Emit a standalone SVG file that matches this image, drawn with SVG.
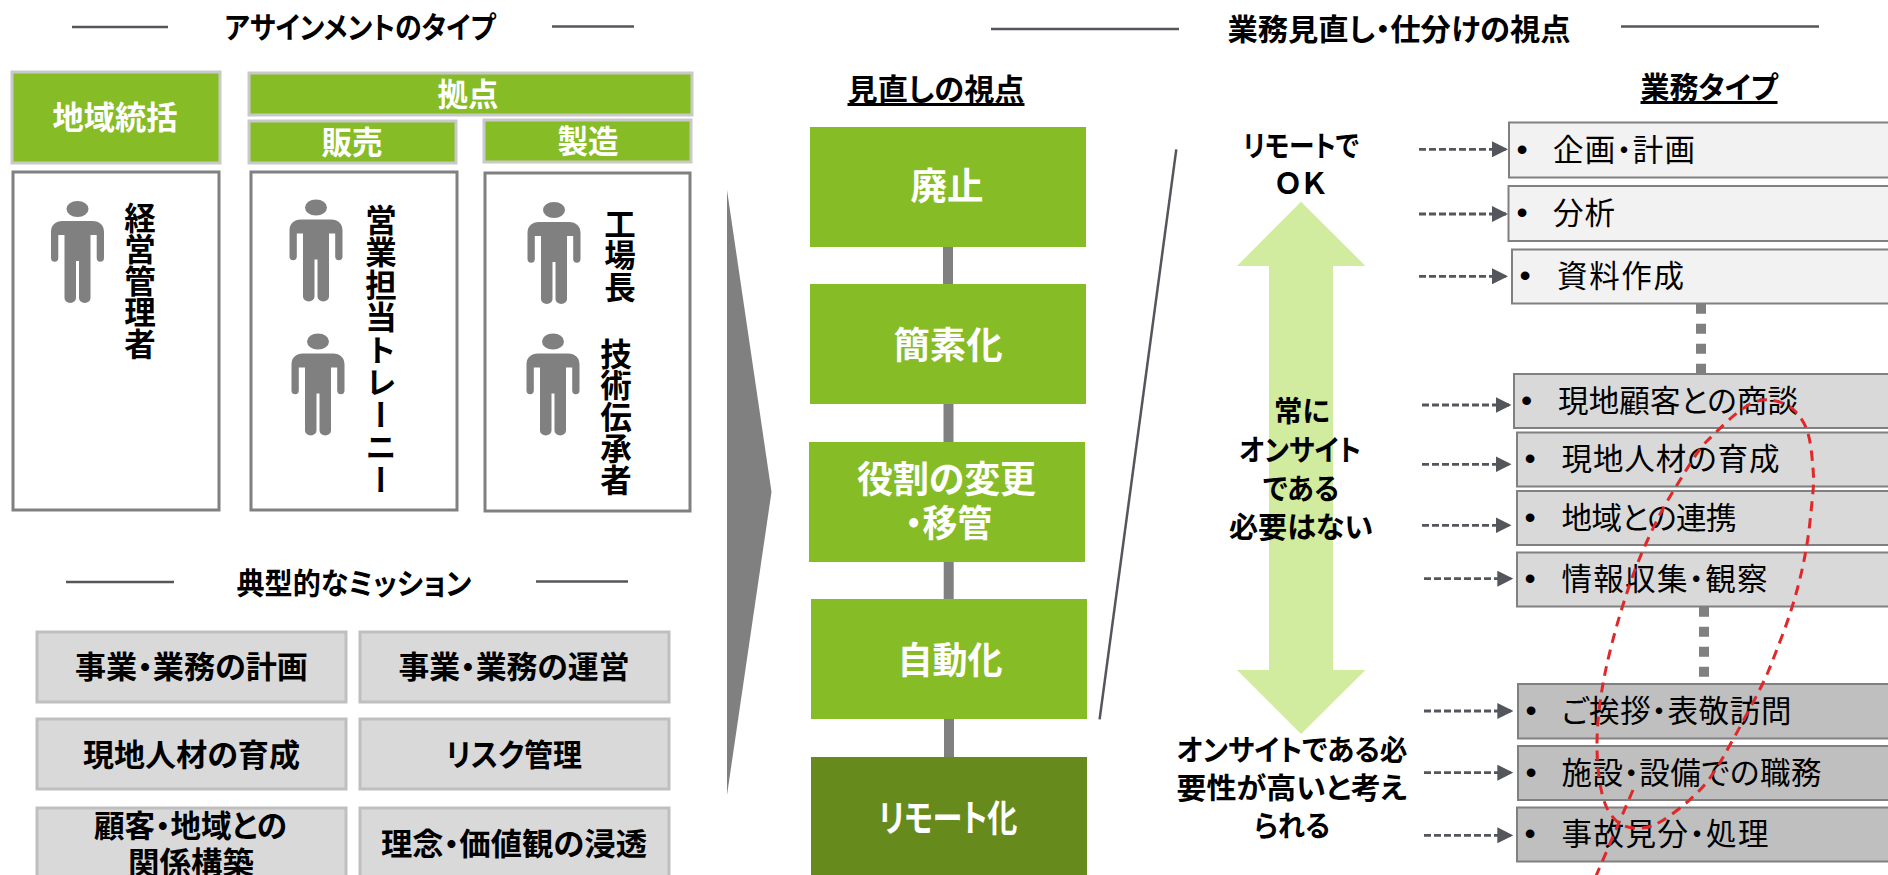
<svg xmlns="http://www.w3.org/2000/svg" width="1888" height="875" viewBox="0 0 1888 875">
<style>
text{font-family:"Noto Sans CJK JP","Noto Sans",sans-serif;font-feature-settings:"palt";text-anchor:middle;dominant-baseline:central;fill:#000}
.h{font-size:30px;font-weight:700}
.g{fill:#86BC25;stroke:#C9C9C9;stroke-width:3}
.gt{fill:#fff;font-size:32px;font-weight:700}
.w{fill:#fff;stroke:#808080;stroke-width:3}
.v{font-size:31.500px;font-weight:700;writing-mode:vertical-rl;text-anchor:start;font-feature-settings:normal}
.m{fill:#D9D9D9;stroke:#BFBFBF;stroke-width:3}
.mt{font-size:31px;font-weight:700}
.gb{fill:#86BC25}
.dg{fill:#668B1C}
.bt{fill:#fff;font-size:37px;font-weight:700}
.bar{fill:#808080}
.s{font-size:29px;font-weight:700}
.u{text-decoration:underline;font-size:30px;font-weight:700}
.l{stroke:#53565A;stroke-width:2.500;fill:none}
.t1{fill:#F2F2F2;stroke:#808080;stroke-width:2}
.t2{fill:#D9D9D9;stroke:#808080;stroke-width:2}
.t3{fill:#BFBFBF;stroke:#808080;stroke-width:2}
.tt{font-size:30.500px;text-anchor:start}
.b{font-family:"Liberation Sans",sans-serif;font-size:32px}
.d{stroke:#53565A;stroke-width:2.800;stroke-dasharray:7 3;fill:none;marker-end:url(#ah)}
.dot{stroke:#808080;stroke-width:10;stroke-dasharray:10 10;fill:none}
.r{stroke:#E0282A;stroke-width:3;stroke-dasharray:10 7;fill:none}
.p{fill:#808080}
</style>
<defs>
<marker id="ah" markerUnits="userSpaceOnUse" markerWidth="16" markerHeight="16" refX="16" refY="8" orient="auto"><path d="M0,0L16,8L0,16Z" fill="#53565A"/></marker>
<symbol id="person" overflow="visible" viewBox="-27 0 54 103" width="54" height="103">
<ellipse cx="0" cy="8" rx="11" ry="8"/>
<path d="M-15,20H15C22,20 26.500,24 26.500,31V57A3.650,3.650 0 0 1 19.200,57V34H13V97A5.750,5 0 0 1 1.500,97V60H-1.500V97A5.750,5 0 0 1 -13,97V34H-19.200V57A3.650,3.650 0 0 1 -26.500,57V31C-26.500,24 -22,20 -15,20Z"/>
</symbol>
</defs>

<g id="title-left">
<line class="l" x1="72" y1="27" x2="168" y2="27"/><line class="l" x1="552" y1="26.500" x2="634" y2="26.500"/>
<text class="h" x="360" y="25" textLength="271" lengthAdjust="spacingAndGlyphs">アサインメントのタイプ</text>
</g>
<g id="hq"><rect class="g" x="12" y="72" width="208" height="91"/><text class="gt" x="115" y="114.500" textLength="125" lengthAdjust="spacingAndGlyphs">地域統括</text></g>
<g id="base"><rect class="g" x="249" y="73" width="443" height="42"/><text class="gt" x="468" y="92" textLength="61" lengthAdjust="spacingAndGlyphs">拠点</text></g>
<g id="sales"><rect class="g" x="249" y="121" width="207" height="42"/><text class="gt" x="352" y="140" textLength="61" lengthAdjust="spacingAndGlyphs">販売</text></g>
<g id="mfg"><rect class="g" x="484" y="120" width="207" height="42"/><text class="gt" x="588" y="139" textLength="61" lengthAdjust="spacingAndGlyphs">製造</text></g>

<g id="col-hq"><rect class="w" x="13" y="172" width="206" height="338"/>
<use href="#person" class="p" x="50.500" y="201"/>
<text class="v" x="140" y="202">経営管理者</text></g>
<g id="col-sales"><rect class="w" x="251" y="172" width="206" height="338"/>
<use href="#person" class="p" x="289" y="199.500"/><use href="#person" class="p" x="291" y="333.500"/>
<text class="v" x="381" y="204" style="letter-spacing:1px">営業担当トレーニー</text></g>
<g id="col-mfg"><rect class="w" x="485" y="173" width="205" height="338"/>
<use href="#person" class="p" x="527" y="202"/><use href="#person" class="p" x="526" y="333.500"/>
<text class="v" x="620" y="208">工場長</text>
<text class="v" x="616" y="338">技術伝承者</text></g>

<g id="title-mission">
<line class="l" x1="66" y1="582" x2="174" y2="582"/><line class="l" x1="536" y1="581.500" x2="628" y2="581.500"/>
<text class="h" x="354" y="581" textLength="235" lengthAdjust="spacingAndGlyphs">典型的なミッション</text>
</g>
<g id="m1"><rect class="m" x="37" y="632" width="309" height="70"/><text class="mt" x="191.500" y="664" textLength="233" lengthAdjust="spacingAndGlyphs">事業・業務の計画</text></g>
<g id="m2"><rect class="m" x="360" y="632" width="309" height="70"/><text class="mt" x="514" y="664.500" textLength="231" lengthAdjust="spacingAndGlyphs">事業・業務の運営</text></g>
<g id="m3"><rect class="m" x="37" y="719" width="309" height="70"/><text class="mt" x="191.500" y="752" textLength="217" lengthAdjust="spacingAndGlyphs">現地人材の育成</text></g>
<g id="m4"><rect class="m" x="360" y="719" width="309" height="70"/><text class="mt" x="514" y="752" textLength="136" lengthAdjust="spacingAndGlyphs">リスク管理</text></g>
<g id="m5"><rect class="m" x="37" y="808" width="309" height="80"/><text class="mt" x="190.500" y="823" textLength="193" lengthAdjust="spacingAndGlyphs">顧客・地域との</text><text class="mt" x="191" y="860" textLength="126" lengthAdjust="spacingAndGlyphs">関係構築</text></g>
<g id="m6"><rect class="m" x="360" y="808" width="309" height="80"/><text class="mt" x="514" y="841" textLength="266" lengthAdjust="spacingAndGlyphs">理念・価値観の浸透</text></g>

<polygon id="chevron" points="727,190 771.500,492 727,795" fill="#808080"/>

<g id="connectors">
<rect class="bar" x="943" y="247" width="10" height="37"/>
<rect class="bar" x="943.500" y="404" width="10" height="38"/>
<rect class="bar" x="943.700" y="562" width="10" height="37"/>
<rect class="bar" x="944" y="719" width="10" height="38"/>
<line class="dot" x1="1701" y1="303.700" x2="1701" y2="374"/>
<line class="dot" x1="1704" y1="606.700" x2="1704" y2="677"/>
<line class="d" x1="1419" y1="149.300" x2="1508" y2="149.300"/>
<line class="d" x1="1419" y1="214" x2="1508" y2="214"/>
<line class="d" x1="1419" y1="276.300" x2="1508" y2="276.300"/>
<line class="d" x1="1422" y1="405" x2="1511.500" y2="405"/>
<line class="d" x1="1422" y1="464.300" x2="1511.500" y2="464.300"/>
<line class="d" x1="1422" y1="525.300" x2="1511.500" y2="525.300"/>
<line class="d" x1="1424" y1="578.700" x2="1513.300" y2="578.700"/>
<line class="d" x1="1424" y1="711" x2="1513.300" y2="711"/>
<line class="d" x1="1424" y1="772.700" x2="1513.300" y2="772.700"/>
<line class="d" x1="1424" y1="835.300" x2="1513.300" y2="835.300"/>
</g>

<g id="v1"><rect class="gb" x="810" y="127" width="276" height="120"/><text class="bt" x="947" y="184" textLength="73" lengthAdjust="spacingAndGlyphs">廃止</text></g>
<g id="v2"><rect class="gb" x="810" y="284" width="276" height="120"/><text class="bt" x="948" y="343" textLength="109" lengthAdjust="spacingAndGlyphs">簡素化</text></g>
<g id="v3"><rect class="gb" x="809" y="442" width="276" height="120"/><text class="bt" x="946.500" y="477" textLength="179" lengthAdjust="spacingAndGlyphs">役割の変更</text><text class="bt" x="948.500" y="521" textLength="87" lengthAdjust="spacingAndGlyphs">・移管</text></g>
<g id="v4"><rect class="gb" x="811" y="599" width="276" height="120"/><text class="bt" x="950" y="658" textLength="105" lengthAdjust="spacingAndGlyphs">自動化</text></g>
<g id="v5"><rect class="dg" x="811" y="757" width="276" height="125"/><text class="bt" x="948" y="816" textLength="139" lengthAdjust="spacingAndGlyphs">リモート化</text></g>

<g id="title-right">
<line class="l" x1="991" y1="29" x2="1179" y2="29"/><line class="l" x1="1621" y1="26.500" x2="1819" y2="26.500"/>
<text class="h" x="1399" y="27" textLength="343" lengthAdjust="spacingAndGlyphs">業務見直し・仕分けの視点</text>
</g>
<text class="u" x="936" y="87" textLength="177" lengthAdjust="spacingAndGlyphs">見直しの視点</text>
<text class="u" x="1709" y="85" textLength="137" lengthAdjust="spacingAndGlyphs">業務タイプ</text>
<line id="slant" class="l" x1="1176.300" y1="149.300" x2="1099.600" y2="719.300"/>

<polygon id="updown" fill="#D1EB9F" points="1301,201.700 1365.500,266 1333,266 1333,670 1365.500,670 1301,734 1237,670 1269,670 1269,266 1237,266"/>
<g id="scale-text">
<text class="s" x="1301" y="144" textLength="116" lengthAdjust="spacingAndGlyphs">リモートで</text><text class="s" x="1301" y="181" style="font-feature-settings:normal" textLength="55">ＯＫ</text>
<text class="s" x="1302" y="409" textLength="56" lengthAdjust="spacingAndGlyphs">常に</text><text class="s" x="1300" y="448" textLength="122" lengthAdjust="spacingAndGlyphs">オンサイト</text><text class="s" x="1301" y="487" textLength="76" lengthAdjust="spacingAndGlyphs">である</text><text class="s" x="1301" y="525" textLength="144" lengthAdjust="spacingAndGlyphs">必要はない</text>
<text class="s" x="1292" y="748" textLength="231" lengthAdjust="spacingAndGlyphs">オンサイトである必</text><text class="s" x="1292" y="786" textLength="231" lengthAdjust="spacingAndGlyphs">要性が高いと考え</text><text class="s" x="1292" y="824" textLength="76" lengthAdjust="spacingAndGlyphs">られる</text>
</g>

<g id="t1"><rect class="t1" x="1509" y="122.500" width="400" height="55"/><text class="b" x="1522" y="149">•</text><text class="tt" x="1553" y="148" textLength="142">企画・計画</text></g>
<g id="t2"><rect class="t1" x="1508.500" y="186" width="400" height="55"/><text class="b" x="1522" y="212">•</text><text class="tt" x="1553" y="211" textLength="62">分析</text></g>
<g id="t3"><rect class="t1" x="1512" y="249.500" width="400" height="54"/><text class="b" x="1525" y="275">•</text><text class="tt" x="1557" y="274" textLength="127">資料作成</text></g>
<g id="t4"><rect class="t2" x="1514" y="374" width="400" height="54"/><text class="b" x="1526.500" y="400">•</text><text class="tt" x="1558" y="399" textLength="240">現地顧客との商談</text></g>
<g id="t5"><rect class="t2" x="1517" y="432.500" width="400" height="54"/><text class="b" x="1530" y="458">•</text><text class="tt" x="1561.500" y="457" textLength="218">現地人材の育成</text></g>
<g id="t6"><rect class="t2" x="1517" y="491" width="400" height="54"/><text class="b" x="1530" y="517">•</text><text class="tt" x="1561.500" y="516" textLength="175">地域との連携</text></g>
<g id="t7"><rect class="t2" x="1517" y="552.500" width="400" height="54"/><text class="b" x="1530" y="578">•</text><text class="tt" x="1561.500" y="577" textLength="206">情報収集・観察</text></g>
<g id="t8"><rect class="t3" x="1518" y="684" width="400" height="54.500"/><text class="b" x="1531" y="710">•</text><text class="tt" x="1561.500" y="709" textLength="230">ご挨拶・表敬訪問</text></g>
<g id="t9"><rect class="t3" x="1518" y="746" width="400" height="54"/><text class="b" x="1531" y="772">•</text><text class="tt" x="1561.500" y="771" textLength="260">施設・設備での職務</text></g>
<g id="t10"><rect class="t3" x="1517" y="807.500" width="400" height="54"/><text class="b" x="1530" y="833">•</text><text class="tt" x="1561.500" y="832" textLength="207">事故見分・処理</text></g>

<g id="red-marks">
<path class="r" d="M1773.500,400.500Q1787,403 1794.500,410.500Q1802,418 1806,427.500Q1810,437 1812,457Q1814,477 1813.500,485Q1813,493 1810,521.500Q1807,550 1800,578.500Q1793,607 1783,633.500Q1773,660 1768,672Q1763,684 1748,712Q1733,740 1721.500,760Q1710,780 1698.500,791.500Q1687,803 1673.500,813Q1660,823 1651.500,826Q1643,829 1633,828Q1623,827 1616.500,821Q1610,815 1606,806Q1602,797 1599.500,780Q1597,763 1597,745Q1597,727 1599.500,707Q1602,687 1606,668.500Q1610,650 1616,628.500Q1622,607 1629.500,585Q1637,563 1648.500,538Q1660,513 1670,496.500Q1680,480 1690,464Q1700,448 1706.500,441.500Q1713,435 1725,423.500Q1737,412 1748.500,405Q1760,398 1773.500,400.500Z"/>
<path class="r" d="M1633,790Q1615,832 1596,876"/>
</g>
</svg>
